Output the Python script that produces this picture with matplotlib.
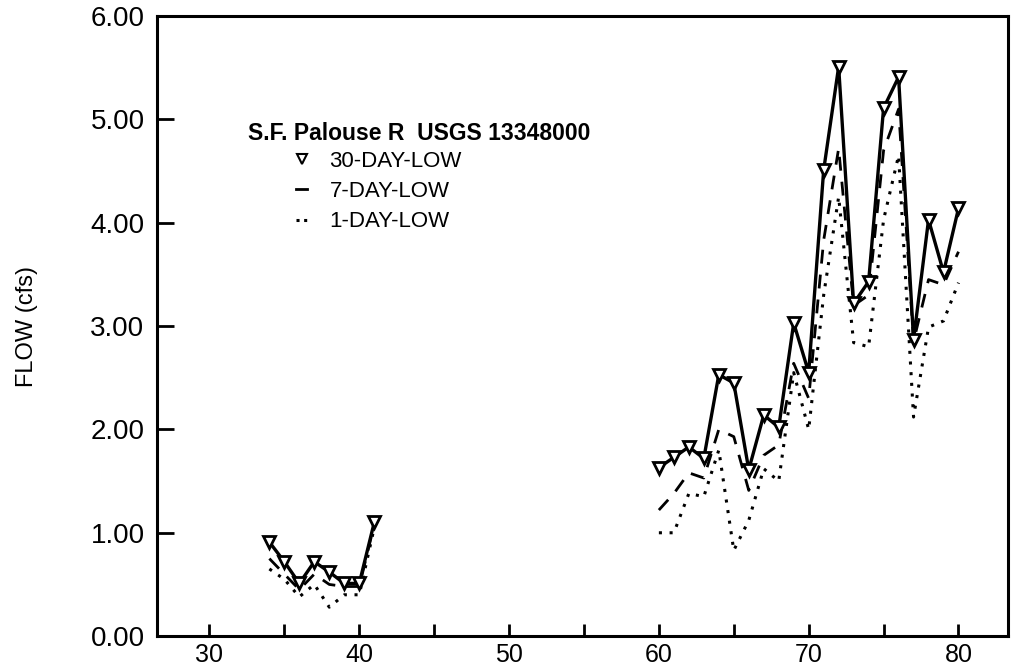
import numpy as np
import matplotlib.pyplot as plt
from matplotlib.lines import Line2D

plt.rcParams['font.family'] = ['Liberation Sans', 'DejaVu Sans']

# water years (19xx), two separate records
years_a = [34, 35, 36, 37, 38, 39, 40, 41]
years_b = [60, 61, 62, 63, 64, 65, 66, 67, 68, 69, 70,
           71, 72, 73, 74, 75, 76, 77, 78, 79, 80]

# 30-day low flow (cfs)
low30_a = [0.91, 0.72, 0.51, 0.72, 0.62, 0.51, 0.51, 1.10]
low30_b = [1.63, 1.73, 1.83, 1.72, 2.53, 2.45, 1.61, 2.14, 2.02, 3.03, 2.55,
           4.51, 5.51, 3.22, 3.43, 5.11, 5.41, 2.87, 4.03, 3.52, 4.14]

# 7-day low flow (cfs)
low7_a = [0.75, 0.60, 0.45, 0.60, 0.50, 0.48, 0.48, 1.08]
low7_b = [1.22, 1.38, 1.58, 1.53, 2.00, 1.93, 1.41, 1.75, 1.85, 2.64, 2.30,
          3.83, 4.72, 3.20, 3.30, 4.70, 5.10, 2.85, 3.45, 3.40, 3.72]

# 1-day low flow (cfs)
low1_a = [0.65, 0.55, 0.38, 0.50, 0.28, 0.40, 0.40, 1.05]
low1_b = [1.00, 1.00, 1.38, 1.35, 1.80, 0.83, 1.12, 1.62, 1.50, 2.55, 2.00,
          3.30, 4.25, 2.84, 2.80, 4.03, 4.65, 2.12, 2.99, 3.05, 3.42]

fig = plt.figure(figsize=(10.13, 6.71), dpi=100)
ax = fig.add_axes([0.155, 0.052, 0.84, 0.924])

for xs, y30, y7, y1 in [(years_a, low30_a, low7_a, low1_a),
                        (years_b, low30_b, low7_b, low1_b)]:
    ax.plot(xs, y1, color='black', lw=2.2, ls=(0, (1, 2.5)), zorder=2)
    ax.plot(xs, y7, color='black', lw=2.0, ls=(0, (5, 4)), zorder=3)
    ax.plot(xs, y30, color='black', lw=2.4, marker='v', ms=9,
            mfc='white', mec='black', mew=2, zorder=4)

ax.set_xlim(26.5, 83.3)
ax.set_ylim(0, 6)
ax.set_xticks([30, 40, 50, 60, 70, 80])
ax.set_xticks([35, 45, 55, 65, 75], minor=True)
ax.set_yticks(np.arange(0, 7, 1))
ax.set_yticklabels([f'{v:.2f}' for v in np.arange(0, 7, 1)])
ax.tick_params(axis='both', which='both', direction='in', width=2)
ax.tick_params(axis='x', which='major', length=9, labelsize=18, pad=5)
ax.tick_params(axis='x', which='minor', length=9)
ax.tick_params(axis='y', which='major', length=12, labelsize=20, pad=9)
for s in ax.spines.values():
    s.set_linewidth(2.2)

ax.set_ylabel('FLOW (cfs)', fontsize=17, labelpad=38)

ax.text(0.107, 0.80, 'S.F. Palouse R  USGS 13348000', transform=ax.transAxes,
        fontsize=16.5, fontweight='bold')

handles = [Line2D([], [], color='black', ls='none', marker='v', ms=7,
                  mfc='white', mew=1.5),
           Line2D([], [], color='black', lw=2, ls='-'),
           Line2D([], [], color='black', lw=2.2, ls=(0, (1, 1.5)))]
ax.legend(handles, ['30-DAY-LOW', '7-DAY-LOW', '1-DAY-LOW'],
          loc='upper left', bbox_to_anchor=(0.14, 0.815), frameon=False,
          fontsize=16, handlelength=0.5, handletextpad=1.0,
          labelspacing=0.42)

fig.savefig('out.png', dpi=100)
